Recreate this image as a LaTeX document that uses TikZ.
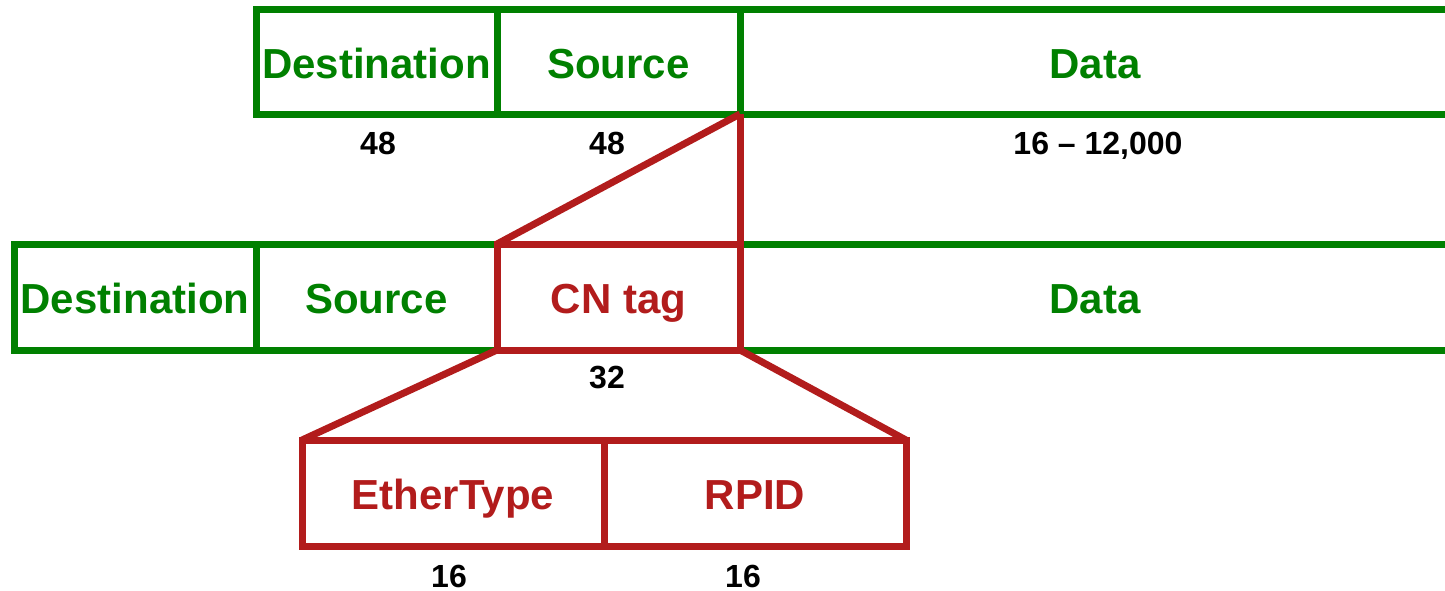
\documentclass[tikz,border=0pt]{standalone}
\usepackage{fontspec}
\setmainfont{Liberation Sans}
\definecolor{framegreen}{RGB}{0,128,0}
\definecolor{tagred}{RGB}{178,28,28}

\begin{document}
\begin{tikzpicture}[x=1pt, y=-1pt,
		label text/.style={font=\fontsize{42}{48}\selectfont\bfseries, text height=33pt, text depth=0pt},
		field/.style={label text, draw, line width=7pt, inner sep=0pt, outer sep=0pt},
		greenfield/.style={field, color=framegreen},
		redfield/.style={field, color=tagred},
		bits/.style={font=\fontsize{32}{38}\selectfont\bfseries, text height=23pt, text depth=0pt, inner sep=0pt}]
			%%%%% START %%%%%
			\useasboundingbox (0, 0) rectangle (1445, 590);
			
			% original frame
			\node[greenfield, minimum width=241pt, minimum height=105pt] (dstA) at (376.5, 61.5) {Destination};
			\node[greenfield, minimum width=243pt, minimum height=105pt] (srcA) at (618.5, 61.5) {Source};
			\node[label text, color=framegreen] (dataA) at (1095, 61.5) {Data};
			\draw[line width=7pt, color=framegreen] (1445, 9) -- (srcA.north east) -- (srcA.south east) -- (1445, 114);
			
			\node[bits] (lenDstA) at (378, 143) {48};
			\node[bits] (lenSrcA) at (607, 143) {48};
			\node[bits] (lenDataA) at (1098, 143) {16 -- 12,000};
			
			% tagged frame
			\node[greenfield, minimum width=242pt, minimum height=106pt] (dstB) at (135, 297) {Destination};
			\node[greenfield, minimum width=241pt, minimum height=106pt] (srcB) at (376.5, 297) {Source};
			\node[label text, color=framegreen] (dataB) at (1095, 297) {Data};
			\draw[line width=7pt, color=framegreen] (1445, 244) -- (740, 244) -- (740, 350) -- (1445, 350);
			\node[redfield, minimum width=243pt, minimum height=106pt] (cnTag) at (618.5, 297) {CN tag};
			
			\node[bits] (lenTag) at (607, 377) {32};
			
			% CN tag fields
			\node[redfield, minimum width=302pt, minimum height=106pt] (etherType) at (453, 493) {EtherType};
			\node[redfield, minimum width=302pt, minimum height=106pt] (rpid) at (755, 493) {RPID};
			
			\node[bits] (lenEther) at (449, 576) {16};
			\node[bits] (lenRpid) at (743, 576) {16};
			
			% expansion lines
			\draw[line width=7pt, color=tagred] (srcA.south east) -- (cnTag.north west);
			\draw[line width=7pt, color=tagred] (srcA.south east) -- (cnTag.north east);
			\draw[line width=7pt, color=tagred] (cnTag.south west) -- (etherType.north west);
			\draw[line width=7pt, color=tagred] (cnTag.south east) -- (rpid.north east);
			
			%%%%% END %%%%%
		\end{tikzpicture}
\end{document}
